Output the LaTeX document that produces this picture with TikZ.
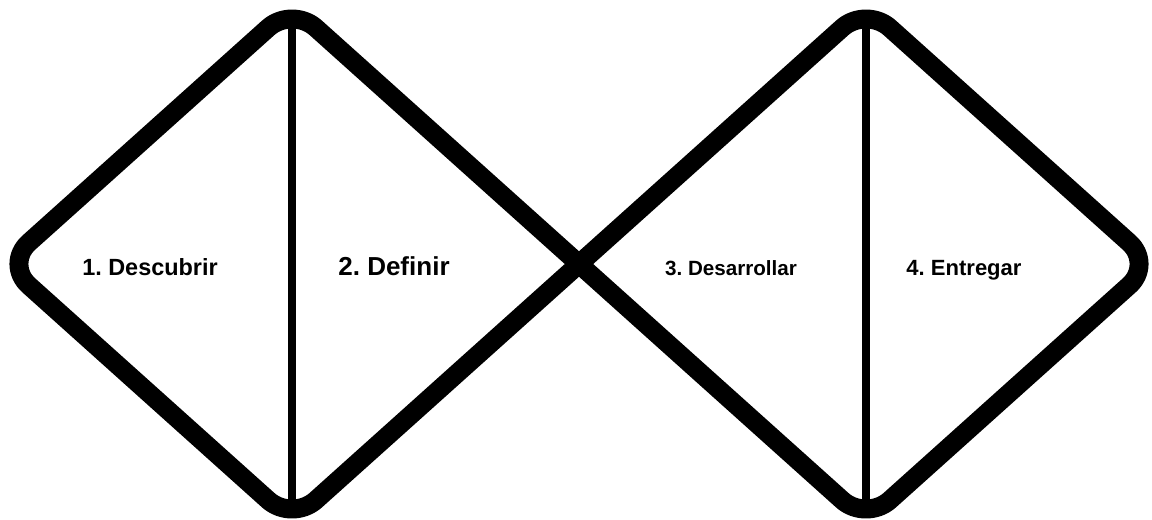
\documentclass[tikz,border=0pt]{standalone}
\usepackage{fontspec}
\setmainfont{Liberation Sans}
\frenchspacing
\begin{document}
\begin{tikzpicture}[x=0.03cm,y=-0.03cm,line join=round,
		outline/.style={line width=16.2pt,rounded corners=27.3pt},
		divider/.style={line width=6pt,shorten <=11pt,shorten >=11pt},
		lbl/.style={anchor=base}]
		\useasboundingbox (0,0) rectangle (1152,519);
		% corners of the two diamonds
		\coordinate (X) at (579,264);
		\coordinate (L1) at (5,264);
		\coordinate (T1) at (292,6.5);
		\coordinate (B1) at (292,521.5);
		\coordinate (R2) at (1153,264);
		\coordinate (T2) at (866,6.5);
		\coordinate (B2) at (866,521.5);
		\draw[divider] (T1)--(B1);
		\draw[divider] (T2)--(B2);
		\draw[outline] (X)--(T1)--(L1)--(B1)--(X);
		\draw[outline] (X)--(T2)--(R2)--(B2)--(X);
		\foreach \n/\x/\s/\t in {1/150/20/1. Descubrir,2/394/22.2/2. Definir,3/731/17.6/3. Desarrollar,4/964/18.8/4. Entregar}
			\node[lbl,font=\bfseries\fontsize{\s pt}{\s pt}\selectfont] (lbl\n) at (\x,275) {\t};
	\end{tikzpicture}
\end{document}
